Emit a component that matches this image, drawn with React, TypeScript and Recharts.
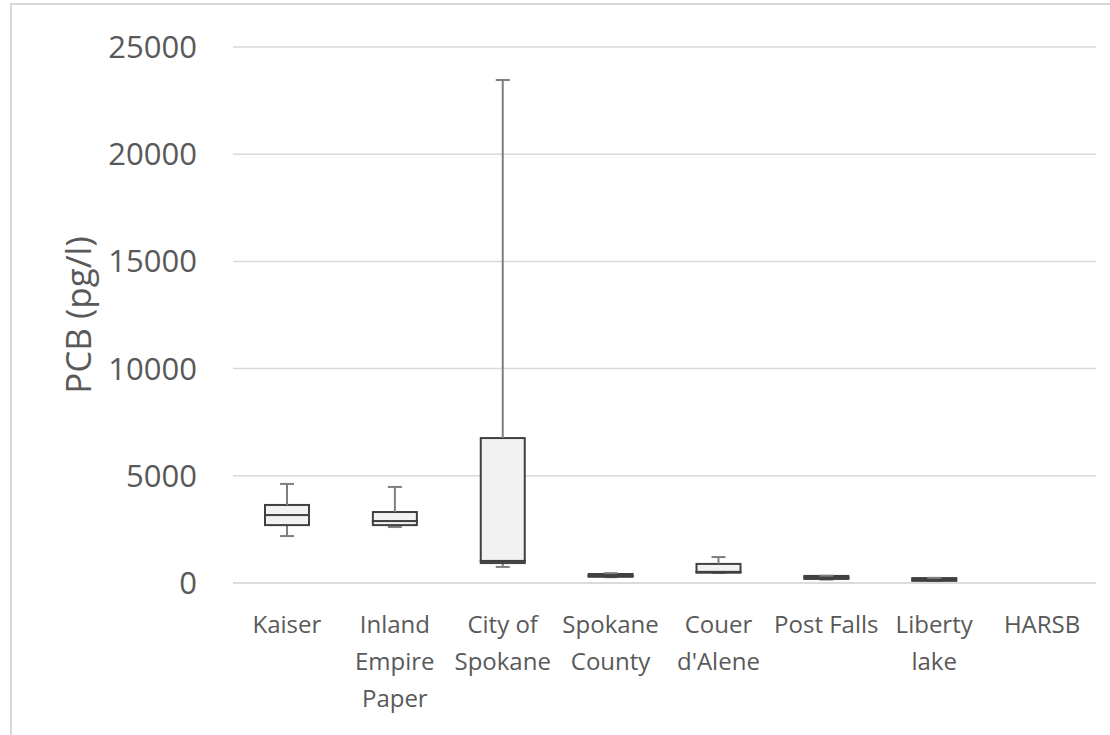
import React from 'react';
import { ComposedChart, Bar, XAxis, YAxis, CartesianGrid } from 'recharts';

const CATEGORIES = ['Kaiser', 'Inland\nEmpire\nPaper', 'City of\nSpokane', 'Spokane\nCounty', "Couer\nd'Alene", 'Post Falls', 'Liberty\nlake', 'HARSB'];
const MINS = [2190, 2610, 750, 270, 470, 160, 100, null];
const Q1S = [2700, 2700, 930, 290, 480, 190, 100, null];
const MEDIANS = [3170, 2890, 1030, 330, 520, 250, 160, null];
const Q3S = [3640, 3310, 6760, 420, 890, 330, 230, null];
const MAXS = [4620, 4480, 23460, 460, 1210, 340, 240, null];
const Y_TICKS = [0, 5000, 10000, 15000, 20000, 25000];

const diff = (a: number | null, b: number | null) => (a == null || b == null ? null : a - b);

const data = CATEGORIES.map((name, i) => ({
  name,
  base: MINS[i],
  lowWhisker: diff(Q1S[i], MINS[i]),
  lowBox: diff(MEDIANS[i], Q1S[i]),
  highBox: diff(Q3S[i], MEDIANS[i]),
  highWhisker: diff(MAXS[i], Q3S[i]),
}));

const TEXT = '#595959';
const FONT = '"Open Sans", sans-serif';

// skip categories without data (HARSB)
const empty = (props: any) => props.x == null || props.y == null || !props.payload || props.payload.base == null;

const whisker = (top: boolean) => (props: any) => {
  if (empty(props)) return <g />;
  const { x, y, width, height } = props;
  const cx = x + width / 2;
  const capY = top ? y : y + height;
  return (
    <g stroke="#7f7f7f" strokeWidth={2}>
      <line x1={cx} x2={cx} y1={y} y2={y + height} />
      <line x1={cx - 7} x2={cx + 7} y1={capY} y2={capY} />
    </g>
  );
};

const BoxPart = (props: any) => {
  if (empty(props)) return <g />;
  const { x, y, width, height } = props;
  return <rect x={x} y={y} width={width} height={Math.max(height, 0)} fill="#f2f2f2" stroke="#404040" strokeWidth={2} />;
};

const XTick = (props: any) => {
  const { x, y, payload } = props;
  const lines = String(payload.value).split('\n');
  return (
    <text x={x} y={y} textAnchor="middle" fill={TEXT} fontSize={24} fontFamily={FONT}>
      {lines.map((l, i) => (
        <tspan key={i} x={x} dy={i === 0 ? 48 : 37}>{l}</tspan>
      ))}
    </text>
  );
};

const YLabel = (props: any) => {
  const vb = props.viewBox || {};
  const cx = vb.x + 77;
  const cy = vb.y + vb.height / 2;
  return (
    <text x={cx} y={cy} transform={`rotate(-90 ${cx} ${cy})`} textAnchor="middle" dominantBaseline="central" fill={TEXT} fontSize={35} fontFamily={FONT}>
      PCB (pg/l)
    </text>
  );
};

export default function App() {
  return (
    <div style={{ position: 'absolute', left: 0, top: 0, width: 1110, height: 735, overflow: 'hidden', background: '#fff' }}>
      <div style={{ position: 'absolute', left: 10, top: 3, width: 1200, height: 800, borderTop: '2px solid #d9d9d9', borderLeft: '2px solid #d9d9d9' }} />
      <div style={{ position: 'absolute', left: 0, top: 0 }}>
        <ComposedChart width={1110} height={735} data={data} margin={{ top: 47, right: 14, left: 0, bottom: 0 }} barSize={44}>
          <CartesianGrid vertical={false} stroke="#d9d9d9" strokeWidth={1.5} />
          <XAxis dataKey="name" height={152} interval={0} tick={<XTick />} tickLine={false} tickSize={0} axisLine={{ stroke: '#d9d9d9', strokeWidth: 1.5 }} />
          <YAxis
            width={233}
            domain={[0, 25000]}
            ticks={Y_TICKS}
            tickLine={false}
            axisLine={false}
            tickSize={0}
            tickMargin={36}
            tick={{ fill: TEXT, fontSize: 31, fontFamily: FONT }}
            label={<YLabel />}
          />
          <Bar dataKey="base" stackId="box" fill="none" isAnimationActive={false} />
          <Bar dataKey="lowWhisker" stackId="box" shape={whisker(false)} isAnimationActive={false} />
          <Bar dataKey="lowBox" stackId="box" shape={BoxPart} isAnimationActive={false} />
          <Bar dataKey="highBox" stackId="box" shape={BoxPart} isAnimationActive={false} />
          <Bar dataKey="highWhisker" stackId="box" shape={whisker(true)} isAnimationActive={false} />
        </ComposedChart>
      </div>
    </div>
  );
}
